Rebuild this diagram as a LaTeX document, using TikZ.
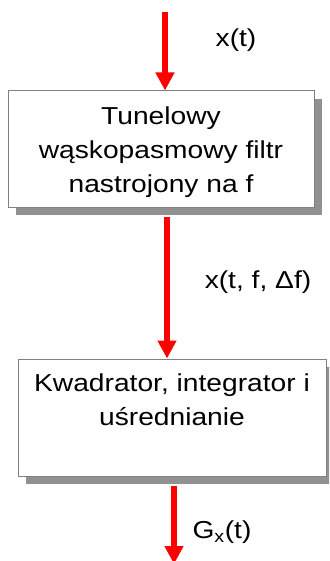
\documentclass[tikz,border=0pt]{standalone}
\usepackage{fontspec}
\setmainfont{Liberation Sans}[FakeStretch=1.15]
\usetikzlibrary{arrows.meta,shadows}
\definecolor{sigred}{RGB}{255,0,0}
\definecolor{boxborder}{RGB}{128,128,128}
\definecolor{shadowgray}{RGB}{145,145,145}
\tikzset{
  blockbox/.style={draw=boxborder, line width=1pt, fill=white, inner sep=0pt,
    general shadow={shadow xshift=8pt, shadow yshift=-8pt, fill=shadowgray, draw=none}},
  boxtext/.style={align=center, inner sep=0pt, anchor=base,
    font=\fontsize{24.5}{34}\selectfont},
  sig/.style={draw=sigred, line width=6pt, -{Triangle[width=18pt,length=18pt]}, sigred},
  lbl/.style={font=\fontsize{24.5}{28}\selectfont, inner sep=0pt}
}
\begin{document}
\begin{tikzpicture}[x=1pt,y=-1pt]
\useasboundingbox (0,0) rectangle (329,561);
\clip (0,0) rectangle (329,561);
\node[blockbox, minimum width=306pt, minimum height=116pt] (b1) at (161,149) {};
\node[boxtext] (t1) at (161,193) {Tunelowy\\wąskopasmowy filtr\\nastrojony na f};
\node[blockbox, minimum width=308pt, minimum height=117pt] (b2) at (172,417.5) {};
\node[boxtext] (t2) at (172,425) {Kwadrator, integrator i\\uśrednianie};
\coordinate (in) at (165,12);
\coordinate (m1) at (167,217);
\coordinate (m2) at (174,486);
\coordinate (out) at (174,564);
\draw[sig] (in) -- (in |- b1.north);
\draw[sig] (m1) -- (m1 |- b2.north);
\draw[sig] (m2) -- (out);
\node[lbl] (l1) at (236,40) {x(t)};
\node[lbl] (l2) at (258,282) {x(t, f, Δf)};
\node[lbl] (l3) at (222,532) {G\textsubscript{x}(t)};
\end{tikzpicture}
\end{document}
